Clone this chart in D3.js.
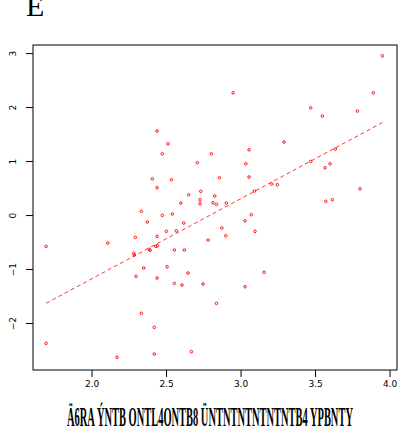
<!DOCTYPE html>
<html>
<head>
<meta charset="utf-8">
<script src="https://cdn.jsdelivr.net/npm/d3@7"></script>
<style>
  body { margin: 0; background: #fff; }
  svg { display: block; }
</style>
</head>
<body>
<script>
const width = 400
const height = 432

// point values
const xs = [
  2.440, 2.513, 2.475, 2.804, 2.710, 2.408, 2.536, 2.858, 2.440, 2.733,
  2.652, 2.827, 2.599, 2.728, 2.728, 2.815, 2.838, 3.952, 2.950, 3.891,
  3.471, 3.549, 3.784, 3.292, 3.057, 3.035, 3.057, 3.601, 3.567, 3.636,
  3.471, 2.905, 3.802, 3.209, 3.247, 3.093, 3.572, 3.616, 2.334, 2.475,
  2.542, 2.374, 2.619, 1.695, 2.109, 2.294, 2.440, 2.502, 2.569, 2.782,
  2.283, 2.287, 2.388, 2.393, 2.431, 2.442, 2.556, 2.623, 2.350, 2.507,
  2.648, 2.299, 2.440, 2.556, 2.607, 2.748, 2.838, 2.334, 2.421, 1.695,
  2.171, 2.421, 2.670, 3.072, 3.030, 2.874, 2.901, 3.097, 3.158, 3.030
]
const ys = [
  1.556, 1.320, 1.135, 1.135, 0.969, 0.672, 0.654, 0.691, 0.506, 0.439,
  0.376, 0.352, 0.222, 0.283, 0.209, 0.228, 0.198, 2.950, 2.265, 2.265,
  1.987, 1.833, 1.926, 1.352, 1.209, 0.950, 0.704, 0.950, 0.876, 1.222,
  0.994, 0.222, 0.487, 0.574, 0.561, 0.444, 0.254, 0.283, 0.069, -0.006,
  0.019, -0.130, -0.148, -0.580, -0.519, -0.413, -0.394, -0.302, -0.291, -0.463,
  -0.709, -0.741, -0.635, -0.654, -0.580, -0.569, -0.648, -0.648, -0.981, -0.957,
  -1.074, -1.135, -1.167, -1.265, -1.296, -1.278, -1.635, -1.820, -2.080, -2.376,
  -2.635, -2.574, -2.531, 0.006, -0.106, -0.241, -0.383, -0.302, -1.061, -1.328
]
// fitted line
const fitIntercept = -4.149
const fitSlope = 1.4834

const xTicks = [2.0, 2.5, 3.0, 3.5, 4.0]
const yTicks = [-2, -1, 0, 1, 2, 3]
const titleText = 'E'
const xLabelText = 'Ä6RA ÝNTB ONTL4ONTB8 ÜNTNTNTNTNTNTB4 YPBNTY'

const plot = { left: 33, right: 397, top: 45, bottom: 370 }

const x = d3.scaleLinear().domain([1.607, 4.05]).range([plot.left, plot.right])
const y = d3.scaleLinear().domain([-2.87, 3.15]).range([plot.bottom, plot.top])

const svg = d3.select('body')
  .append('svg')
  .attr('width', width)
  .attr('height', height)

// title, partly cut off at the top like the reference
svg.append('text')
  .text(titleText)
  .attr('x', 26)
  .attr('y', 16)
  .attr('font-family', 'Liberation Serif')
  .attr('font-size', '30px')
  .attr('fill', '#000')

// axes
const xAxis = svg.append('g')
  .attr('transform', `translate(0,${plot.bottom})`)
  .call(d3.axisBottom(x).tickValues(xTicks).tickFormat(d3.format('.1f')).tickSize(7).tickSizeOuter(0))
xAxis.select('.domain').remove()
xAxis.selectAll('text')
  .attr('y', 17)
  .attr('dy', null)
  .attr('font-family', 'DejaVu Sans')
  .attr('font-size', '9px')
  .attr('fill', '#000')

const yAxis = svg.append('g')
  .attr('transform', `translate(${plot.left},0)`)
  .call(d3.axisLeft(y).tickValues(yTicks).tickFormat(d3.format('d')).tickSize(7).tickSizeOuter(0))
yAxis.select('.domain').remove()
yAxis.selectAll('text')
  .attr('x', null)
  .attr('dy', null)
  .attr('text-anchor', 'middle')
  .attr('transform', 'translate(-17,0) rotate(-90)')
  .attr('font-family', 'DejaVu Sans')
  .attr('font-size', '9px')
  .attr('fill', '#000')

// plot box
svg.append('rect')
  .attr('x', plot.left)
  .attr('y', plot.top)
  .attr('width', plot.right - plot.left)
  .attr('height', plot.bottom - plot.top)
  .attr('fill', 'none')
  .attr('stroke', '#000')
  .attr('stroke-width', 1)

// regression line over the data range
const xMin = d3.min(xs)
const xMax = d3.max(xs)
svg.append('line')
  .attr('x1', x(xMin))
  .attr('y1', y(fitIntercept + fitSlope * xMin))
  .attr('x2', x(xMax))
  .attr('y2', y(fitIntercept + fitSlope * xMax))
  .attr('stroke', '#ff0000')
  .attr('stroke-width', 0.8)
  .attr('stroke-dasharray', '4,3')

// points
svg.selectAll('circle')
  .data(xs.map(function (d, i) { return [d, ys[i]] }))
  .enter()
  .append('circle')
  .attr('cx', function (d) { return x(d[0]) })
  .attr('cy', function (d) { return y(d[1]) })
  .attr('r', 1.3)
  .attr('fill', 'none')
  .attr('stroke', '#ff0000')
  .attr('stroke-width', 0.9)

// x label, squeezed horizontally to fit 67..353 like the reference
const labelLeft = 67
const labelWidth = 286
const xLabel = svg.append('text')
  .text(xLabelText)
  .attr('font-family', 'Liberation Serif')
  .attr('font-weight', 'bold')
  .attr('font-size', '27px')
  .attr('fill', '#000')
const naturalWidth = xLabel.node().getComputedTextLength()
xLabel.attr('transform', `translate(${labelLeft},426) scale(${labelWidth / naturalWidth},1)`)
</script>
</body>
</html>
